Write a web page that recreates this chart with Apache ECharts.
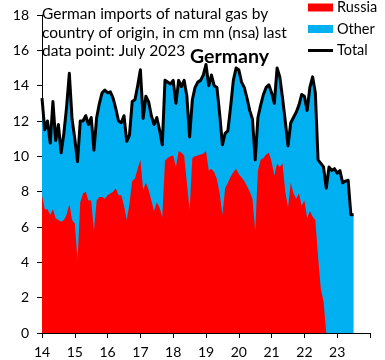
<!DOCTYPE html>
<html>
<head>
<meta charset="utf-8">
<script src="https://cdn.jsdelivr.net/npm/echarts@6/dist/echarts.min.js"></script>
<style>
  html, body { margin: 0; padding: 0; background: #fff; }
  #chart { width: 385px; height: 360px; }
</style>
</head>
<body>
<div id="chart"></div>
<script>
// Year tick labels (Jan of each year)
const yearLabels = ['14', '15', '16', '17', '18', '19', '20', '21', '22', '23'];

// Monthly imports, Jan 2014 .. Jul 2023, cm mn (nsa)
const russia = [
  7.8, 7.0, 7.0, 6.7, 7.0, 6.5, 6.4, 6.3, 6.4, 6.7, 7.3, 6.4,      // 2014
  6.2, 4.1, 7.4, 7.9, 8.0, 7.5, 7.5, 5.8, 7.5, 7.7, 7.7, 7.6,      // 2015
  7.8, 7.9, 8.0, 8.2, 7.8, 7.8, 7.2, 6.4, 7.3, 8.6, 8.75, 9.3,     // 2016
  9.8, 8.1, 8.5, 8.1, 7.5, 6.9, 7.4, 7.1, 6.55, 9.75, 9.9, 10.0,   // 2017
  10.05, 9.4, 10.3, 10.2, 10.05, 8.5, 6.95, 9.9, 10.0, 10.05, 10.1, 10.15, // 2018
  10.3, 9.2, 9.3, 9.1, 8.7, 7.9, 6.7, 8.2, 8.5, 8.85, 9.1, 9.3,    // 2019
  9.0, 8.8, 8.6, 8.3, 8.0, 7.6, 5.8, 9.2, 9.8, 9.9, 10.1, 10.2,    // 2020
  9.7, 8.9, 9.6, 9.4, 9.6, 8.0, 7.1, 8.5, 7.9, 7.6, 7.9, 7.2,      // 2021
  7.5, 6.5, 6.9, 6.6, 6.4, 4.3, 2.5, 1.8, 0, 0, 0, 0,              // 2022
  0, 0, 0, 0, 0, 0, 0                                              // 2023
];
const total = [
  13.3, 11.5, 12.0, 10.75, 13.1, 10.9, 11.8, 10.2, 11.3, 12.8, 14.7, 12.1,   // 2014
  11.0, 9.7, 12.0, 12.0, 12.3, 11.8, 12.2, 10.35, 12.2, 13.0, 13.6, 13.75,   // 2015
  13.6, 13.65, 13.3, 12.7, 12.0, 11.9, 12.3, 10.85, 11.2, 13.1, 13.2, 14.0,  // 2016
  14.9, 12.15, 13.4, 13.1, 12.3, 11.8, 12.2, 11.5, 10.65, 14.3, 14.2, 14.1,  // 2017
  14.3, 13.0, 14.3, 13.95, 14.3, 13.4, 11.1, 13.2, 13.9, 14.2, 14.3, 14.6,   // 2018
  15.2, 14.0, 14.6, 14.0, 13.9, 12.4, 10.65, 11.3, 11.45, 12.8, 14.3, 15.0,  // 2019
  14.9, 14.2, 13.9, 13.3, 12.6, 12.1, 9.8, 12.2, 12.9, 13.5, 13.9, 14.05,    // 2020
  13.6, 13.0, 15.0, 14.5, 13.3, 12.0, 10.6, 11.9, 12.2, 12.5, 12.9, 13.5,    // 2021
  13.4, 12.6, 13.9, 14.5, 13.6, 9.8, 9.6, 9.4, 8.2, 9.4, 9.2, 9.3,           // 2022
  9.05, 9.2, 8.5, 8.6, 8.65, 6.7, 6.7                                        // 2023
];

// Monthly categories Jan 2014 .. Jan 2024
const months = [];
for (let y = 2014; y <= 2024; y++) {
  for (let m = 1; m <= 12; m++) {
    if (y === 2024 && m > 1) break;
    months.push(y + '-' + String(m).padStart(2, '0'));
  }
}

const FONT = 'Lato, "Open Sans", sans-serif';
const chart = echarts.init(document.getElementById('chart'), null, { renderer: 'canvas' });

chart.setOption({
  animation: false,
  backgroundColor: '#fff',
  textStyle: { fontFamily: FONT },
  title: [
    {
      text: 'German imports of natural gas by\ncountry of origin, in cm mn (nsa) last\ndata point: July 2023',
      left: 42, top: 5, padding: 0,
      textStyle: { fontFamily: FONT, fontSize: 15.5, fontWeight: 'normal', color: '#000', lineHeight: 18.5 }
    },
    {
      text: 'Germany',
      left: 190, top: 47, padding: 0,
      textStyle: { fontFamily: FONT, fontSize: 19.5, fontWeight: 'bold', color: '#000' }
    }
  ],
  legend: {
    orient: 'vertical',
    left: 308, top: 0, padding: 0,
    itemWidth: 25, itemHeight: 8, itemGap: 6.5,
    textStyle: { fontFamily: FONT, fontSize: 14.5, color: '#000', padding: [0, 0, 0, -1] },
    data: [
      { name: 'Russia', icon: 'rect' },
      { name: 'Other', icon: 'rect' },
      { name: 'Total', icon: 'path://M0,0L25,0L25,3L0,3Z' }
    ]
  },
  grid: { left: 42, right: 15, top: 15, bottom: 27, containLabel: false },
  xAxis: {
    type: 'category',
    data: months,
    boundaryGap: false,
    axisLine: { show: true, lineStyle: { color: '#000', width: 1 } },
    axisTick: { show: true, length: 5, interval: (i) => i % 12 === 0, lineStyle: { color: '#000' } },
    axisLabel: {
      interval: (i) => i % 12 === 0,
      formatter: (v, i) => (i % 12 === 0 && yearLabels[i / 12] !== undefined ? yearLabels[i / 12] : ''),
      fontFamily: FONT, fontSize: 14, color: '#000', margin: 12
    },
    splitLine: { show: false }
  },
  yAxis: {
    type: 'value',
    min: 0, max: 18, interval: 2,
    axisLine: { show: true, lineStyle: { color: '#000', width: 1 } },
    axisTick: { show: true, length: 5, lineStyle: { color: '#000' } },
    axisLabel: { fontFamily: FONT, fontSize: 14, color: '#000', margin: 13 },
    splitLine: { show: false }
  },
  series: [
    {
      name: 'Other', type: 'line', data: total, symbol: 'none',
      color: '#00B0F0',
      lineStyle: { width: 0, color: '#00B0F0' },
      itemStyle: { color: '#00B0F0' },
      areaStyle: { color: '#00B0F0', opacity: 1 },
      z: 1
    },
    {
      name: 'Russia', type: 'line', data: russia, symbol: 'none',
      color: '#FF0000',
      lineStyle: { width: 0, color: '#FF0000' },
      itemStyle: { color: '#FF0000' },
      areaStyle: { color: '#FF0000', opacity: 1 },
      z: 2
    },
    {
      name: 'Total', type: 'line', data: total, symbol: 'none',
      color: '#000',
      lineStyle: { width: 3, color: '#000', join: 'round' },
      itemStyle: { color: '#000' },
      z: 3
    }
  ]
});
</script>
</body>
</html>
